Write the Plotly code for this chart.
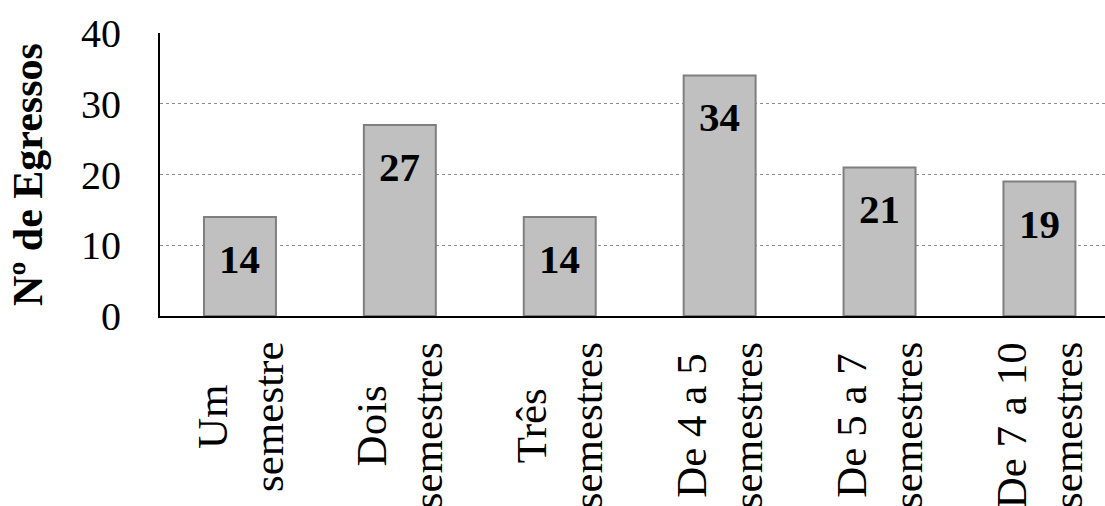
import plotly.graph_objects as go

# Tempo até a conclusão do curso (egressos)
categorias = [
    "Um<br>semestre",
    "Dois<br>semestres",
    "Três<br>semestres",
    "De 4 a 5<br>semestres",
    "De 5 a 7<br>semestres",
    "De 7 a 10<br>semestres",
]
egressos = [14, 27, 14, 34, 21, 19]
y_ticks = [0, 10, 20, 30, 40]

SERIF = "Liberation Serif, Times New Roman, serif"
x_pos = list(range(len(categorias)))

fig = go.Figure(
    go.Bar(
        x=x_pos,
        y=egressos,
        width=0.45,
        marker=dict(color="#c0c0c0", line=dict(color="#7f7f7f", width=2)),
        hoverinfo="skip",
    )
)

# value labels near the top of each bar
for xi, v in zip(x_pos, egressos):
    fig.add_annotation(
        x=xi, y=v, text=f"<b>{v}</b>", showarrow=False,
        yanchor="middle", yshift=-42,
        font=dict(family=SERIF, size=41, color="black"),
    )

# category labels, rotated, lines centred
for xi, cat in zip(x_pos, categorias):
    fig.add_annotation(
        x=xi, xref="x", y=0, yref="paper", text=cat, showarrow=False,
        textangle=-90, align="center", xanchor="center", yanchor="top",
        yshift=-24,
        font=dict(family=SERIF, size=43, color="black"),
    )

fig.update_layout(
    width=1105, height=506,
    margin=dict(l=160, r=0, t=33, b=190),
    paper_bgcolor="white", plot_bgcolor="white",
    showlegend=False,
    xaxis=dict(
        range=[-0.5, 5.41],
        showticklabels=False, showgrid=False, zeroline=False,
        showline=True, linecolor="black", linewidth=2,
    ),
    yaxis=dict(
        range=[0, 40], tickvals=y_ticks,
        tickfont=dict(family=SERIF, size=40, color="black"),
        ticklabelstandoff=29,
        showgrid=True, gridcolor="#8c8c8c", gridwidth=1, griddash="dot",
        zeroline=False,
        showline=True, linecolor="black", linewidth=2,
        title=dict(
            text="<b>Nº de Egressos</b>",
            font=dict(family=SERIF, size=42, color="black"),
            standoff=25,
        ),
    ),
)

fig.write_html("out.html")
